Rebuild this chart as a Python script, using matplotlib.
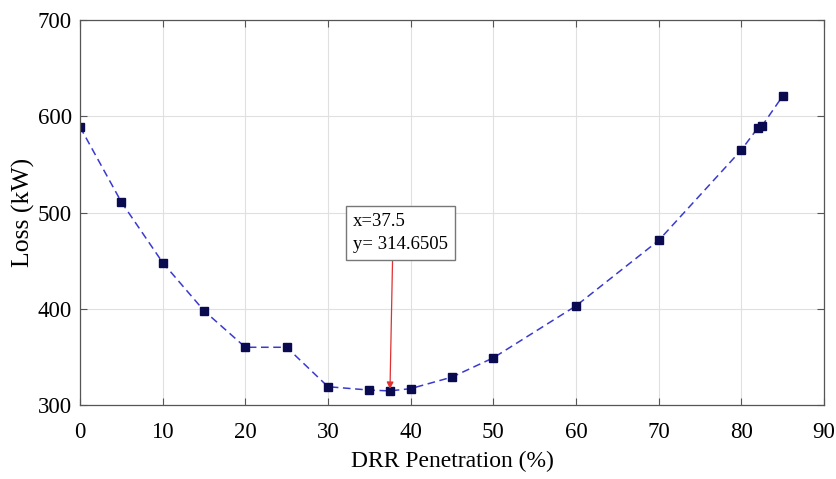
import matplotlib
matplotlib.use("Agg")
import matplotlib.pyplot as plt

penetration = [0, 5, 10, 15, 20, 25, 30, 35, 37.5, 40, 45, 50, 60, 70, 80, 82, 82.5, 85]
loss_kw = [589, 511, 448, 398, 360, 360, 319, 315.5, 314.6505, 317, 329, 349, 403, 471, 565, 588, 590, 621]

x_ticks = [0, 10, 20, 30, 40, 50, 60, 70, 80, 90]
y_ticks = [300, 400, 500, 600, 700]

tip_x = 37.5
tip_y = 314.6505

plt.rcParams["font.family"] = ["Liberation Serif", "DejaVu Serif"]

fig = plt.figure(figsize=(8.36, 4.79), dpi=100)
ax = fig.add_axes([0.0957, 0.1545, 0.8899, 0.8035])

ax.plot(penetration, loss_kw, linestyle="--", color="#3a3ad0", linewidth=1.1,
        marker="s", markersize=6, markerfacecolor="#0a0a50", markeredgecolor="#0a0a50",
        dashes=(5, 3))

ax.set_xlim(0, 90)
ax.set_ylim(300, 700)
ax.set_xticks(x_ticks)
ax.set_yticks(y_ticks)
ax.grid(True, color="#e0e0e0", linewidth=0.8)
ax.set_axisbelow(True)
ax.tick_params(direction="in", top=True, right=True, labelsize=16.5, length=5,
               color="#555555")
ax.tick_params(axis="x", pad=12)
ax.tick_params(axis="y", pad=6)
for s in ax.spines.values():
    s.set_color("#555555")
    s.set_linewidth(0.9)

ax.set_xlabel("DRR Penetration (%)", fontsize=17, labelpad=6)
ax.set_ylabel("Loss (kW)", fontsize=18.5)
ax.yaxis.set_label_coords(-0.06, 0.5)

ax.annotate(f"x={tip_x}\ny= {tip_y:.4f}", xy=(tip_x, tip_y + 2),
            xytext=(33.0, 479), textcoords="data", fontsize=13.5,
            va="center", ha="left", linespacing=1.45,
            bbox=dict(boxstyle="square,pad=0.38", facecolor="white", edgecolor="#777777", linewidth=1),
            arrowprops=dict(arrowstyle="-|>", color="#e03030", linewidth=0.9, mutation_scale=10,
                            shrinkA=0, shrinkB=0, relpos=(0.42, 0.0)))

fig.savefig("out.png", dpi=100)
